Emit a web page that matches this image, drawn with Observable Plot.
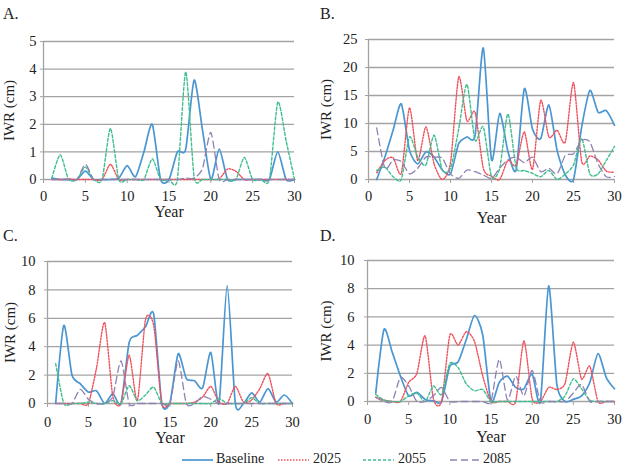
<!DOCTYPE html>
<html><head><meta charset="utf-8">
<script src="https://cdn.jsdelivr.net/npm/d3@7"></script>
<script src="https://cdn.jsdelivr.net/npm/@observablehq/plot@0.6"></script>
<style>
body{margin:0;background:#fff;}
#wrap{position:relative;width:637px;height:467px;overflow:hidden;font-family:"Liberation Serif","Times New Roman",serif;color:#222;background:#fff;}
.panel{position:absolute;}
.lab{position:absolute;font-size:16px;line-height:16px;}
.legline{position:absolute;top:453px;}
.legtxt{position:absolute;top:451px;font-size:14px;line-height:16px;}
</style>
</head><body>
<div id="wrap"></div>
<script>
const years = [1,2,3,4,5,6,7,8,9,10,11,12,13,14,15,16,17,18,19,20,21,22,23,24,25,26,27,28,29,30];
const seriesNames = ["Baseline","2025","2055","2085"];
const xTicks = [0,5,10,15,20,25,30];

// Panel A
const aBaseline = [0.05,0,0,0,0.3,0,0,0,0.05,0.5,0.1,1.0,2.0,0,0,1.0,1.1,3.6,1.8,0,1.1,0,0,0,0,0,0,1.0,0,0];
const a2025 = [0,0,0.02,0,0,0,0,0.55,0,0,0,0,0,0,0,0,0,0,0,0,0.02,0.38,0.3,0,0,0,0,0,0,0];
const a2055 = [0.05,0.9,0,0,0.45,0,0,1.85,0,0,0,0,0.75,0,0,0,3.9,0.1,0,0,0,0,0,0.8,0,0,0,2.8,1.4,0];
const a2085 = [0,0,0,0,0.55,0,0,0,0,0,0,0,0,0,0,0,0.05,0.05,0.4,1.7,0,0,0,0,0,0,0,0,0,0];
const aTicks = [0,1,2,3,4,5];

// Panel B
const bBaseline = [0,4,8.8,13.5,5.2,2.8,4.9,4,1.7,1,6.4,7.6,7.9,23.5,3.5,11.8,5,1.7,16.2,9,7.3,13.3,5.2,0.8,0,9.4,15.9,12,12.3,9.7];
const b2025 = [1.2,3.4,3.9,1.1,12.8,3.4,9.4,2.8,0,3,18.3,10.5,12,2,0.6,0,3.4,2.5,8.5,1.8,14.1,7.6,8.8,6.7,17.3,3.2,4.2,3.5,1.5,1.3];
const b2055 = [1.6,2.2,0.5,0,7.6,4,2.6,7.9,1.7,2,9,17,7,9.4,0.5,2,11.7,2.2,1.6,1.1,0.5,1.6,0,1,2.6,7.3,1,1,3.4,5.9];
const b2085 = [9.2,2,3.5,3.2,1,2,4,4,3.8,1,0.2,1.7,1.4,0.8,0.2,2,3.5,4,3,4,1.4,2,1,4.3,4.6,7,6.7,2.8,0.5,0.5];
const bTicks = [0,5,10,15,20,25];

// Panel C
const cBaseline = [0,5.5,2,1.4,0.8,0.9,0,0.7,0,4.3,4.8,5.4,6.3,0,0.1,3.5,1.75,1.6,1.1,3.6,0,8.3,0,0,0.75,0.1,1.05,0.1,0.6,0];
const c2025 = [0,0,0,0,0,2.5,5.7,0.5,0,3.4,0.2,5.9,5.5,0,0,0,0,0.1,0.45,1.2,0.1,0,1.2,0.1,0.25,1.05,2.1,0,0,0];
const c2055 = [2.8,0,0,0,0.1,0,0,0.2,0,1.25,0.2,0.6,1.15,0,0,0,0,0,0,0,0.35,0,0,0,0.4,0,0,0,0,0];
const c2085 = [0,0,0,1,0.3,0,0,0.5,3,0,0,0,0,0,0,3,0,0,0.5,0.3,0,0,0,0,0,0,0,0,0,0];
const cTicks = [0,2,4,6,8,10];

// Panel D
const dBaseline = [0.6,5.1,3.5,1.8,0.4,0.65,0.15,0.05,0,2.5,2.8,4.4,6.1,4.7,0,1.35,1.8,1,0.9,1.95,0,8.2,1.2,0,0.15,0.4,1.35,3.4,1.7,0.9];
const d2025 = [0.3,0.1,0,0,1.35,2.0,4.65,0.2,0,4.7,4,4.95,4.25,1.8,0,0,0,0,4.3,0.2,0,1.0,0.85,1.3,4.2,1.6,2.5,0,0,0];
const d2055 = [0.5,0.1,0,0,0.4,0.6,0,1.1,0.5,2.7,2.4,1.25,0.76,0.85,0,0,0,0,0,0,0,0,0,0.4,1.6,0.9,0.1,0,0,0];
const d2085 = [0.3,0,0,1.7,1.1,0,0,0.4,1,0,0,0,0,0,0,3,0.1,1.8,0.4,2.2,0,0,0,0,0.6,1.2,0,0,0,0];
const dTicks = [0,2,4,6,8,10];

const styles = {
  "Baseline": {stroke:"#4a96d2", strokeWidth:1.7, strokeDasharray:null},
  "2025": {stroke:"#f0505a", strokeWidth:1.4, strokeDasharray:"1.5,1.5"},
  "2055": {stroke:"#3fbf8f", strokeWidth:1.4, strokeDasharray:"3,2"},
  "2085": {stroke:"#8e82b4", strokeWidth:1.3, strokeDasharray:"7,4"}
};

const wrap = document.getElementById("wrap");
const fmt = d3.format("d");
const FONT = "'Liberation Serif', 'Times New Roman', serif";

function panel(cfg) {
  const lines = cfg.series.map((arr, k) => {
    const st = styles[seriesNames[k]];
    const data = years.map((yr, i) => ({year: yr, v: arr[i]}));
    const o = {x:"year", y:"v", stroke: st.stroke, strokeWidth: st.strokeWidth, curve:"cardinal", tension:0.3};
    if (st.strokeDasharray) o.strokeDasharray = st.strokeDasharray;
    return Plot.line(data, o);
  });
  const p = Plot.plot({
    width: cfg.w, height: 225,
    marginLeft: cfg.ml, marginRight: cfg.mr, marginTop: cfg.mt, marginBottom: cfg.mb,
    style: {fontFamily: FONT, fontSize:"14.5px", color:"#222", background:"transparent"},
    x: {domain:[0,30]},
    y: {domain:[0, cfg.ticks[cfg.ticks.length-1]]},
    marks: [
      Plot.gridY(cfg.ticks, {stroke:"#a3a3a3", strokeOpacity:1, strokeWidth:1.3}),
      Plot.ruleX([0], {stroke:"#a3a3a3", strokeWidth:1.3}),
      Plot.axisX({ticks: xTicks, tickSize:4, tickPadding: cfg.xpad, stroke:"#a3a3a3", label:null, tickFormat: fmt, fontVariant:"normal"}),
      Plot.axisY({ticks: cfg.ticks, tickSize:3, tickPadding: cfg.ypad, stroke:"#a3a3a3", label:null, tickFormat: fmt, fontVariant:"normal"}),
      ...lines,
      Plot.text(["Year"], {frameAnchor:"bottom", textAnchor:"middle", lineAnchor:"middle", dy: cfg.yearDy, fontSize:16, fill:"#222"}),
      Plot.text(["IWR (cm)"], {frameAnchor:"left", textAnchor:"middle", lineAnchor:"middle", rotate:-90, dx: cfg.labDx, fontSize:15, fill:"#222"})
    ]
  });
  const d = document.createElement("div");
  d.className = "panel";
  d.style.left = cfg.left + "px";
  d.style.top = cfg.top + "px";
  d.appendChild(p);
  wrap.appendChild(d);
  const l = document.createElement("div");
  l.className = "lab";
  l.textContent = cfg.label;
  l.style.left = cfg.lx + "px";
  l.style.top = cfg.ly + "px";
  wrap.appendChild(l);
}

panel({label:"A.", lx:3, ly:6, left:0, top:0, w:318, ml:43, mr:24, mt:41, mb:46, ticks:aTicks, series:[aBaseline,a2025,a2055,a2085], xpad:7, ypad:4, yearDy:32, labDx:-34});
panel({label:"B.", lx:320, ly:6, left:318, top:0, w:319, ml:50, mr:23, mt:39, mb:46, ticks:bTicks, series:[bBaseline,b2025,b2055,b2085], xpad:7, ypad:8, yearDy:38, labDx:-42});
panel({label:"C.", lx:3, ly:228, left:0, top:225, w:318, ml:47, mr:26, mt:36, mb:47, ticks:cTicks, series:[cBaseline,c2025,c2055,c2085], xpad:9, ypad:9, yearDy:34, labDx:-37});
panel({label:"D.", lx:320, ly:228, left:318, top:225, w:319, ml:49, mr:23, mt:35, mb:49, ticks:dTicks, series:[dBaseline,d2025,d2055,d2085], xpad:8, ypad:10, yearDy:35, labDx:-41});

// Legend
const legPos = [{lx:182, tx:216}, {lx:278, tx:313}, {lx:363, tx:398}, {lx:450, tx:483}];
seriesNames.forEach((name, k) => {
  const st = styles[name];
  const ns = "http://www.w3.org/2000/svg";
  const svg = document.createElementNS(ns, "svg");
  svg.setAttribute("width", 31); svg.setAttribute("height", 14);
  svg.setAttribute("class", "legline");
  svg.style.left = legPos[k].lx + "px";
  const ln = document.createElementNS(ns, "line");
  ln.setAttribute("x1", 0); ln.setAttribute("x2", 31);
  ln.setAttribute("y1", 7); ln.setAttribute("y2", 7);
  ln.setAttribute("stroke", st.stroke);
  ln.setAttribute("stroke-width", st.strokeWidth);
  if (st.strokeDasharray) ln.setAttribute("stroke-dasharray", st.strokeDasharray);
  svg.appendChild(ln);
  wrap.appendChild(svg);
  const t = document.createElement("div");
  t.className = "legtxt";
  t.style.left = legPos[k].tx + "px";
  t.textContent = name;
  wrap.appendChild(t);
});
</script>
</body></html>
